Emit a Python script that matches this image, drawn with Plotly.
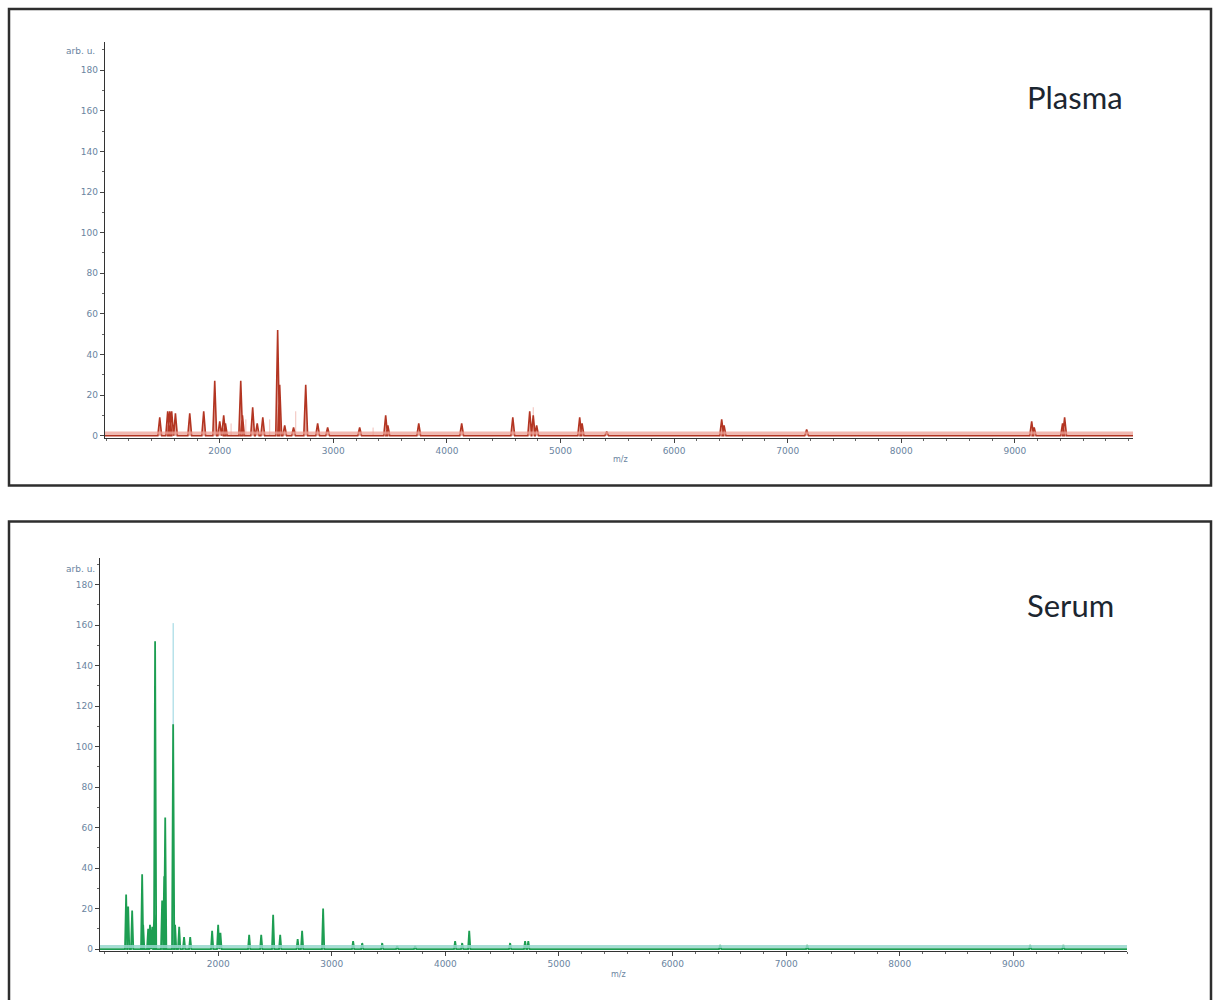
import plotly.graph_objects as go

# ---------------- data ----------------
plasma_mz = [1472, 1542, 1560, 1577, 1610, 1736, 1859, 1956, 2000, 2035, 2050, 2185, 2200,
             2290, 2330, 2379, 2510, 2528, 2572, 2650, 2757, 2862, 2950, 3232, 3461, 3480,
             3752, 4130, 4580, 4729, 4760, 4790, 5169, 5190, 5407, 6419, 6440, 7167, 9148,
             9170, 9420, 9438]
plasma_int = [9, 12, 12, 12, 11, 11, 12, 27, 7, 10, 6, 27, 10,
              14, 6, 9, 52, 25, 5, 4, 25, 6, 4, 4, 10, 5,
              6, 6, 9, 12, 10, 5, 9, 6, 2, 8, 5, 3, 7,
              4, 6, 9]
plasma_faint_mz = [2100, 2230, 2440, 2669, 3350, 4760]
plasma_faint_int = [6, 8, 8, 12, 4, 14]

serum_mz = [1190, 1208, 1243, 1331, 1340, 1384, 1400, 1420, 1437, 1445, 1507, 1525, 1534,
            1604, 1621, 1657, 1700, 1754, 1947, 2000, 2020, 2273, 2379, 2484, 2546, 2700,
            2739, 2924, 3188, 3268, 3444, 3576, 3734, 4086, 4148, 4210, 4570, 4702, 4730,
            6419, 7185, 9148, 9440]
serum_int = [27, 21, 19, 37, 12, 10, 12, 11, 17, 152, 24, 36, 65,
             111, 12, 11, 6, 6, 9, 12, 8, 7, 7, 17, 7, 5,
             9, 20, 4, 3, 3, 1.5, 1.5, 4, 3, 9, 3, 4, 4,
             2, 2, 2, 2]
serum_faint_mz = [1604]
serum_faint_int = [161]

y_ticks = [0, 20, 40, 60, 80, 100, 120, 140, 160, 180]
x_ticks = [2000, 3000, 4000, 5000, 6000, 7000, 8000, 9000]
panel_labels = ["Plasma", "Serum"]

W, H = 1213, 1000


def spikes(mz, inten, half, base, lo, hi):
    pairs = sorted(zip(mz, inten))
    xs, ys = [lo], [base]
    for m, h in pairs:
        xs += [m - half, m, m + half]
        ys += [base, h, base]
    xs.append(hi)
    ys.append(base)
    return xs, ys


fig = go.Figure()

# ---- Plasma panel (x/y) ----
px_lo, px_hi = 990, 10040
bx, by = spikes(plasma_mz, plasma_int, 17, 0, px_lo, px_hi)
for m, h in zip(plasma_faint_mz, plasma_faint_int):
    fig.add_trace(go.Scatter(x=[m, m], y=[0, h], mode="lines",
                             line=dict(color="rgba(230,140,130,0.55)", width=1),
                             xaxis="x", yaxis="y", hoverinfo="skip"))
fig.add_trace(go.Scatter(x=bx, y=by, mode="lines", fill="tozeroy",
                         fillcolor="rgba(200,80,60,0.5)",
                         line=dict(color="#b33522", width=1.6),
                         xaxis="x", yaxis="y"))
fig.add_trace(go.Scatter(x=[px_lo, px_hi], y=[1.3, 1.3], mode="lines",
                         line=dict(color="rgba(238,160,150,0.75)", width=3),
                         xaxis="x", yaxis="y", hoverinfo="skip"))

# ---- Serum panel (x2/y2) ----
sx_lo, sx_hi = 960, 10000
cx, cy = spikes(serum_mz, serum_int, 10, 0, sx_lo, sx_hi)
for m, h in zip(serum_faint_mz, serum_faint_int):
    fig.add_trace(go.Scatter(x=[m, m], y=[0, h], mode="lines",
                             line=dict(color="rgba(120,200,215,0.8)", width=1),
                             xaxis="x2", yaxis="y2", hoverinfo="skip"))
fig.add_trace(go.Scatter(x=cx, y=cy, mode="lines", fill="tozeroy",
                         fillcolor="rgba(40,170,110,0.5)",
                         line=dict(color="#1d9e52", width=1.8),
                         xaxis="x2", yaxis="y2"))
fig.add_trace(go.Scatter(x=[sx_lo, sx_hi], y=[1.3, 1.3], mode="lines",
                         line=dict(color="rgba(150,215,205,0.85)", width=3),
                         xaxis="x2", yaxis="y2", hoverinfo="skip"))

tickfont = dict(family="DejaVu Sans", size=9, color="#6a84a0")
axis_common = dict(showgrid=False, zeroline=False, showline=True, linecolor="#333333",
                   linewidth=1.3, ticks="outside", ticklen=4, tickcolor="#444444",
                   tickfont=tickfont)

fig.update_layout(
    width=W, height=H, margin=dict(l=0, r=0, t=0, b=0),
    paper_bgcolor="white", plot_bgcolor="white", showlegend=False,
    xaxis=dict(domain=[105 / W, 1133 / W], range=[px_lo, px_hi], anchor="y",
               tickvals=x_ticks, minor=dict(dtick=200, tick0=0, ticklen=2, ticks="outside",
                                            tickcolor="#666666"),
               **axis_common),
    yaxis=dict(domain=[1 - 439 / H, 1 - 42 / H], range=[-1, 194], anchor="x",
               tickvals=y_ticks, minor=dict(dtick=10, ticklen=2, ticks="outside",
                                            tickcolor="#666666"),
               **axis_common),
    xaxis2=dict(domain=[100 / W, 1127 / W], range=[sx_lo, sx_hi], anchor="y2",
                tickvals=x_ticks, minor=dict(dtick=200, tick0=0, ticklen=2, ticks="outside",
                                             tickcolor="#666666"),
                **axis_common),
    yaxis2=dict(domain=[1 - 954 / H, 1 - 560 / H], range=[-1, 193], anchor="x2",
                tickvals=y_ticks, minor=dict(dtick=10, ticklen=2, ticks="outside",
                                             tickcolor="#666666"),
                **axis_common),
)

# panel frames
fig.add_shape(type="rect", xref="paper", yref="paper",
              x0=9 / W, x1=1211 / W, y0=1 - 487 / H, y1=1 - 9 / H,
              line=dict(color="#2e2e2e", width=2.5), fillcolor="rgba(0,0,0,0)")
fig.add_shape(type="rect", xref="paper", yref="paper",
              x0=9 / W, x1=1211 / W, y0=-0.01, y1=1 - 523 / H,
              line=dict(color="#2e2e2e", width=2.5), fillcolor="rgba(0,0,0,0)")

small = dict(family="DejaVu Sans", size=9, color="#6a84a0")
for ytop, ymz, xmz in [(51, 461, 620), (571, 977, 618)]:
    fig.add_annotation(text="arb. u.", xref="paper", yref="paper", x=97 / W, y=1 - ytop / H,
                       xanchor="right", yanchor="middle", showarrow=False, font=small)
    fig.add_annotation(text="m/z", xref="paper", yref="paper", x=xmz / W, y=1 - ymz / H,
                       xanchor="center", yanchor="middle", showarrow=False,
                       font=dict(family="DejaVu Sans", size=8, color="#6a84a0"))

for label, (lx, ly) in zip(panel_labels, [(1075, 97), (1070, 607)]):
    fig.add_annotation(text=label, xref="paper", yref="paper", x=lx / W, y=1 - ly / H,
                       xanchor="center", yanchor="middle", showarrow=False,
                       font=dict(family="Lato", size=31, color="#1c2630"))

fig.write_html("out.html")
